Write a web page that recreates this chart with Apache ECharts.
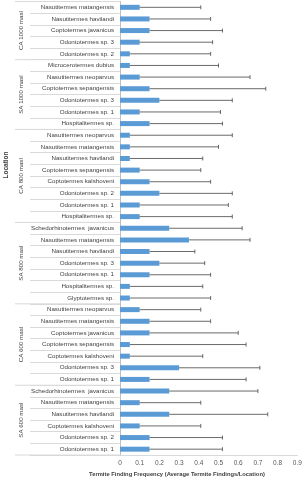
<!DOCTYPE html>
<html>
<head>
<meta charset="utf-8">
<script src="https://cdn.jsdelivr.net/npm/echarts@6/dist/echarts.min.js"></script>
<style>
html,body{margin:0;padding:0;background:#fff;}
#chart{width:305px;height:480px;}
</style>
</head>
<body>
<div id="chart"></div>
<script>
const categories = [
  "Nasutitermes matangensis","Nasutitermes havilandi","Coptotermes javanicus","Odontotermes sp. 3","Odontotermes sp. 2",
  "Microcerotermes dubius","Nasutitermes neoparvus","Coptotermes sepangensis","Odontotermes sp. 3","Odontotermes sp. 1","Hospitalitermes sp.",
  "Nasutitermes neoparvus","Nasutitermes matangensis","Nasutitermes havilandi","Coptotermes sepangensis","Coptotermes kalshoveni","Odontotermes sp. 2","Odontotermes sp. 1","Hospitalitermes sp.",
  "Schedorhinotermes  javanicus","Nasutitermes matangensis","Nasutitermes havilandi","Odontotermes sp. 3","Odontotermes sp. 1","Hospitalitermes sp.","Glyptotermes sp.",
  "Nasutitermes neoparvus","Nasutitermes matangensis","Coptotermes javanicus","Coptotermes sepangensis","Coptotermes kalshoveni","Odontotermes sp. 3","Odontotermes sp. 1",
  "Schedorhinotermes  javanicus","Nasutitermes matangensis","Nasutitermes havilandi","Coptotermes kalshoveni","Odontotermes sp. 2","Odontotermes sp. 1"
];
const values = [
  0.10,0.15,0.15,0.10,0.05,
  0.05,0.10,0.15,0.20,0.10,0.15,
  0.05,0.05,0.05,0.10,0.15,0.20,0.10,0.10,
  0.25,0.35,0.15,0.20,0.15,0.05,0.05,
  0.10,0.15,0.15,0.05,0.05,0.30,0.15,
  0.25,0.10,0.25,0.10,0.15,0.15
];
const errors = [
  0.31,0.31,0.37,0.37,0.41,
  0.45,0.56,0.59,0.37,0.41,0.37,
  0.52,0.45,0.37,0.31,0.31,0.37,0.45,0.47,
  0.37,0.31,0.23,0.23,0.31,0.37,0.41,
  0.31,0.31,0.45,0.59,0.37,0.41,0.49,
  0.45,0.31,0.50,0.31,0.37,0.37
];
const groupNames = ["CA 1000 masl","SA 1000 masl","CA 800 masl","SA 800 masl","CA 600 masl","SA 600 masl"];
const groupSizes = [5,6,8,7,7,6];
const xTicks = [0,0.1,0.2,0.3,0.4,0.5,0.6,0.7,0.8,0.9];
const xTitle = "Termite Finding Frequency (Average Termite Findings/Location)";
const yTitle = "Location";

const FONT = "Liberation Sans";
const chart = echarts.init(document.getElementById('chart'), null, {renderer:'canvas'});
const catKeys = categories.map((c,i)=>String(i));

chart.setOption({
  animation:false,
  backgroundColor:'#fff',
  grid:{left:120, right:7.7, top:1.5, bottom:25, containLabel:false},
  xAxis:{
    type:'value', min:0, max:0.9, interval:0.1,
    axisLine:{show:true, lineStyle:{color:'#d9d9d9', width:1}},
    axisTick:{show:false},
    splitLine:{show:false},
    axisLabel:{color:'#595959', fontFamily:FONT, fontSize:6.5, margin:5,
      formatter:v=>{const t=xTicks.find(x=>Math.abs(x-v)<1e-9); return t===undefined?'':String(t);}}
  },
  yAxis:{
    type:'category', inverse:true, data:catKeys,
    axisLine:{show:true, lineStyle:{color:'#bfbfbf', width:1}},
    axisTick:{show:true, length:90, alignWithLabel:false, lineStyle:{color:'#d9d9d9', width:1}},
    axisLabel:{color:'#404040', fontFamily:FONT, fontSize:6.2, margin:6,
      formatter:(v,i)=>categories[Number(v)]},
    splitLine:{show:false}
  },
  series:[
    {
      type:'bar', data:values, barWidth:5,
      itemStyle:{color:'#5b9bd5'}, silent:true
    },
    {
      type:'custom', silent:true,
      data: values.map((v,i)=>[v, errors[i], i]),
      encode:{x:0, y:2},
      z:3,
      renderItem:(params, api)=>{
        const v=api.value(0), e=api.value(1), idx=api.value(2);
        const s=api.coord([v, idx]);
        const t=api.coord([v+e, idx]);
        const style={stroke:'#595959', lineWidth:0.9};
        return {type:'group', children:[
          {type:'line', shape:{x1:s[0], y1:s[1], x2:t[0], y2:t[1]}, style},
          {type:'line', shape:{x1:t[0], y1:t[1]-2, x2:t[0], y2:t[1]+2}, style}
        ]};
      }
    }
  ]
});

// multi-level category decorations computed from the axis scale
function band(i){ return chart.convertToPixel({yAxisIndex:0}, String(i)); }
const step = band(1)-band(0);
const graphics=[];
let start=0;
const axisX = chart.convertToPixel({xAxisIndex:0}, 0);
const boundaries=[band(0)-step/2];
groupSizes.forEach((n,g)=>{
  const top=band(start)-step/2, bot=band(start+n-1)+step/2;
  boundaries.push(bot);
  graphics.push({type:'text', x:21, y:(top+bot)/2, rotation:Math.PI/2,
    style:{text:groupNames[g], fill:'#404040', font:'6.2px "'+FONT+'"', align:'center', verticalAlign:'middle'}});
  start+=n;
});
boundaries.forEach(y=>{
  graphics.push({type:'line', shape:{x1:15, y1:y, x2:axisX, y2:y}, style:{stroke:'#d9d9d9', lineWidth:1}});
});
const midAll=(boundaries[0]+boundaries[boundaries.length-1])/2;
graphics.push({type:'text', x:6, y:165, rotation:Math.PI/2,
  style:{text:yTitle, fill:'#404040', font:'bold 6.5px "'+FONT+'"', align:'center', verticalAlign:'middle'}});
graphics.push({type:'text', x:177, y:474, 
  style:{text:xTitle, fill:'#404040', font:'bold 5.8px "'+FONT+'"', align:'center', verticalAlign:'middle'}});
chart.setOption({graphic:graphics});
</script>
</body>
</html>
